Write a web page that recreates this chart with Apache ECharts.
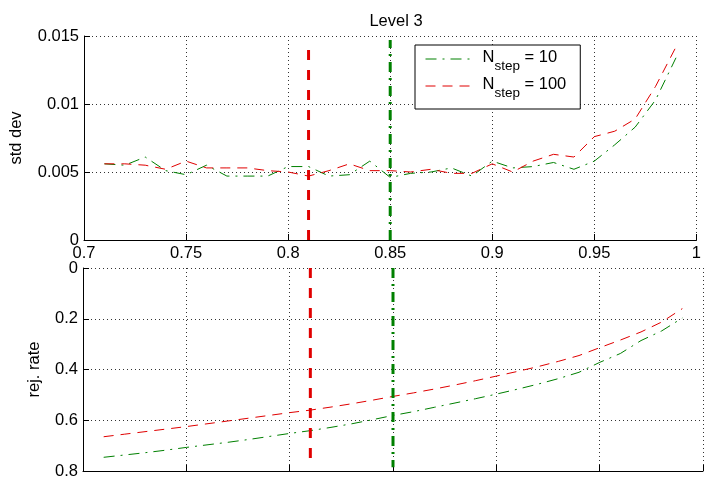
<!DOCTYPE html>
<html><head><meta charset="utf-8">
<script src="https://cdn.jsdelivr.net/npm/echarts@6/dist/echarts.min.js"></script>
<style>html,body{margin:0;padding:0;background:#fff}#c{width:704px;height:483px}</style>
</head><body><div id="c"></div>
<script>
const xValues = [0.71,0.72,0.73,0.74,0.75,0.76,0.77,0.78,0.79,0.80,0.81,0.82,0.83,0.84,0.85,0.86,0.87,0.88,0.89,0.90,0.91,0.92,0.93,0.94,0.95,0.96,0.97,0.98,0.99];
const stdDev10 = [0.0056,0.0055,0.0061,0.0051,0.0048,0.0055,0.0047,0.0047,0.0047,0.0054,0.0054,0.0047,0.0048,0.0058,0.0046,0.0049,0.0050,0.0053,0.0047,0.0058,0.0053,0.0054,0.0057,0.0052,0.0058,0.0070,0.0083,0.0103,0.0134];
const stdDev100 = [0.0056,0.0056,0.0055,0.0052,0.0058,0.0053,0.0053,0.0053,0.0051,0.0050,0.0047,0.0051,0.0056,0.0051,0.0051,0.0050,0.0052,0.0049,0.0049,0.0056,0.0050,0.0058,0.0063,0.0061,0.0076,0.0080,0.0089,0.0113,0.0142];
const rejRate10 = [0.746,0.737,0.728,0.718,0.707,0.697,0.687,0.676,0.664,0.652,0.641,0.628,0.614,0.598,0.581,0.566,0.549,0.532,0.515,0.497,0.478,0.458,0.436,0.411,0.372,0.337,0.286,0.248,0.197];
const rejRate100 = [0.665,0.655,0.645,0.635,0.625,0.614,0.603,0.592,0.581,0.570,0.560,0.548,0.535,0.521,0.506,0.492,0.477,0.461,0.444,0.426,0.408,0.389,0.368,0.345,0.314,0.284,0.252,0.213,0.160];
const seriesNames = ['N10', 'N100'];
const legendLabels = ['{n|N}{s|step}{n| = 10}', '{n|N}{s|step}{n| = 100}'];
const markerX = [0.85, 0.81];
const markerStdTop = [0.0147, 0.0142];
const markerRejBottom = [0.785, 0.765];
const xTicks = [0.7, 0.75, 0.8, 0.85, 0.9, 0.95, 1];
const stdTicks = [0, 0.005, 0.01, 0.015];
const rejTicks = [0, 0.2, 0.4, 0.6, 0.8];

const GREEN = '#008000', RED = '#e00000';
const colors = [GREEN, RED];
const thinDash = [[11, 6, 2, 6], [10, 7]];
const thickDash = [[10, 6, 2, 6], [10, 10]];
const FONT = 'Liberation Sans';
const FS = 16.5;

function pairs(ys) { return xValues.map((x, i) => [x, ys[i]]); }
function fmt(v) { return String(+(+v).toFixed(4)); }

const gridLine = { show: true, lineStyle: { color: '#333', type: [1, 3], width: 1 } };
function xAxis(gi, showLabel) {
  return {
    type: 'value', gridIndex: gi, min: xTicks[0], max: xTicks[xTicks.length - 1],
    interval: 0.05,
    axisLine: { show: true, onZero: false, lineStyle: { color: '#000', width: 1 } },
    axisTick: { show: true, inside: true, length: 6, lineStyle: { color: '#000' } },
    axisLabel: { show: showLabel, color: '#000', fontSize: FS, fontFamily: FONT, margin: 5, showMaxLabel: true, showMinLabel: true, formatter: fmt },
    splitLine: gridLine
  };
}
function yAxis(gi, ticks, name, nameGap, inverse) {
  return {
    type: 'value', gridIndex: gi, min: ticks[0], max: ticks[ticks.length - 1],
    interval: ticks[1] - ticks[0], inverse: inverse,
    name: name, nameLocation: 'middle', nameGap: nameGap, nameRotate: 90,
    nameTextStyle: { color: '#000', fontSize: FS, fontFamily: FONT },
    axisLine: { show: true, lineStyle: { color: '#000', width: 1 } },
    axisTick: { show: true, inside: true, length: 6, lineStyle: { color: '#000' } },
    axisLabel: { color: '#000', fontSize: FS, fontFamily: FONT, margin: 5, showMaxLabel: true, showMinLabel: true, formatter: fmt },
    splitLine: gridLine
  };
}

const series = [];
const stdData = [stdDev10, stdDev100];
const rejData = [rejRate10, rejRate100];
for (let k = 0; k < 2; k++) {
  series.push({
    name: seriesNames[k], type: 'line', xAxisIndex: 0, yAxisIndex: 0, data: pairs(stdData[k]),
    symbol: 'none', lineStyle: { color: colors[k], width: 1, type: thinDash[k] }, itemStyle: { color: colors[k] }
  });
}
for (let k = 0; k < 2; k++) {
  series.push({
    name: seriesNames[k] + ' rej', type: 'line', xAxisIndex: 1, yAxisIndex: 1, data: pairs(rejData[k]),
    symbol: 'none', lineStyle: { color: colors[k], width: 1, type: thinDash[k] }
  });
}
for (let k = 0; k < 2; k++) {
  series.push({
    name: 'marker top ' + k, type: 'line', xAxisIndex: 0, yAxisIndex: 0, silent: true,
    data: [[markerX[k], 0], [markerX[k], markerStdTop[k]]],
    symbol: 'none', lineStyle: { color: colors[k], width: 3, type: thickDash[k] }, z: 5
  });
  series.push({
    name: 'marker bottom ' + k, type: 'line', xAxisIndex: 1, yAxisIndex: 1, silent: true,
    data: [[markerX[k], 0], [markerX[k], markerRejBottom[k]]],
    symbol: 'none', lineStyle: { color: colors[k], width: 3, type: thickDash[k] }, z: 5
  });
}

const chart = echarts.init(document.getElementById('c'), null, { renderer: 'canvas' });
chart.setOption({
  animation: false,
  backgroundColor: '#fff',
  title: {
    text: 'Level 3', left: 391, top: 8, textAlign: 'center',
    textStyle: { color: '#000', fontSize: FS, fontWeight: 'normal', fontFamily: FONT }
  },
  legend: {
    data: seriesNames, orient: 'vertical', left: 415, top: 45,
    padding: [4, 14, 9, 10], itemGap: 3, itemWidth: 47, itemHeight: 14,
    borderColor: '#000', borderWidth: 1, backgroundColor: '#fff', borderRadius: 0,
    itemStyle: { opacity: 0 },
    lineStyle: { width: 1 },
    formatter: function (name) { return legendLabels[seriesNames.indexOf(name)]; },
    textStyle: {
      padding: [0, 0, 0, 5],
      rich: {
        n: { fontSize: FS, fontFamily: FONT, color: '#000', lineHeight: 20, verticalAlign: 'top' },
        s: { fontSize: 13.5, fontFamily: FONT, color: '#000', lineHeight: 16, verticalAlign: 'top', padding: [10, 0, 0, 0] }
      }
    }
  },
  grid: [
    { left: 83, right: 1, top: 36, height: 204, containLabel: false },
    { left: 83, right: 1, top: 268, height: 203, containLabel: false }
  ],
  xAxis: [xAxis(0, true), xAxis(1, false)],
  yAxis: [yAxis(0, stdTicks, 'std dev', 59, false), yAxis(1, rejTicks, 'rej. rate', 40, true)],
  series: series
});
</script>
</body></html>
